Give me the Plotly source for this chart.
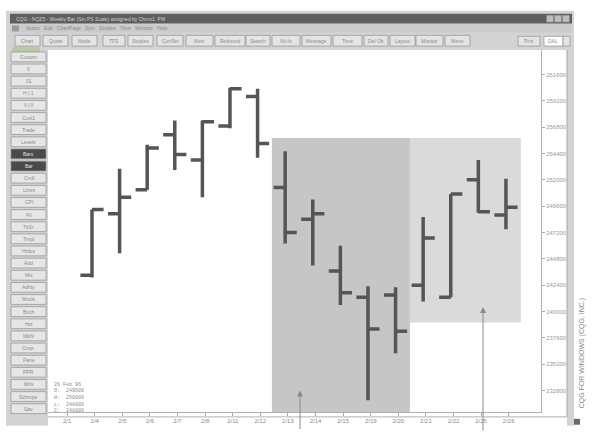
import plotly.graph_objects as go

# ---------------- data ----------------
bar_index = list(range(16))
opens  = [243300, 248900, 251100, 256100, 253800, 256900, 259600, 251300,
          248400, 243700, 241300, 241500, 242400, 241300, 252000, 248800]
highs  = [249300, 253000, 255200, 257400, 257400, 260400, 260300, 254600,
          250200, 246000, 242300, 242200, 248600, 250700, 253800, 252100]
lows   = [243100, 245300, 251100, 252900, 250400, 256700, 254000, 246200,
          244200, 240600, 231900, 236200, 240900, 241300, 249000, 247500]
closes = [249300, 250400, 254900, 254300, 257300, 260300, 255300, 247200,
          248900, 241700, 238400, 238200, 246700, 250700, 249100, 249500]

date_ticks = list(range(-1, 16))
date_labels = ["2/1", "2/4", "2/5", "2/6", "2/7", "2/8", "2/11", "2/12", "2/13",
               "2/14", "2/15", "2/19", "2/20", "2/21", "2/22", "2/25", "2/26"]

price_ticks = [232800, 235200, 237600, 240000, 242400, 244800, 247200,
               249600, 252000, 254400, 256800, 259200, 261600]

info_lines = ["26 Feb 96", "O:  249600", "H:  250000", "L:  248800", "C:  248800"]

toolbar_labels = ["Chart", "Quote", "Mode", "TFS", "Studies", "Cur/Sm", "Alert",
                  "Rebound", "Search", "Alt-In", "Message", "Time", "Del Ob",
                  "Layout", "Monitor", "Menu"]
side_labels = ["Custom", "0", "01", "H | 1", "II | II", "Cust1", "Trade", "Levels",
               "Bars", "Bar", "Cndl", "Lines", "CPI", "Fit", "TkSr", "Tmpl",
               "Hrdcs", "Add", "Mix", "Adhly", "Mncls", "Bnch", "Hst", "MktV",
               "Cmpr", "Pane", "PPR", "Mrls", "Schmpe", "Sav"]
menu_text = "Action   Edit   ChartPage   Sym   Studies   Time   Window   Help"
title_text = "CQG - NQZ5 - Weekly Bar (Sm PS Scale) assigned by Chrnx1  PM"

# ---------------- layout helpers ----------------
W, H = 594, 436
L, R, T, B = 48, 541, 50, 420


def px(x):
    return (x - L) / (R - L)


def py(y):
    return (B - y) / (B - T)


shapes = []
annos = []


def rect(x0, y0, x1, y1, fill, line="rgba(0,0,0,0)", lw=0, layer="above"):
    shapes.append(dict(type="rect", xref="paper", yref="paper",
                       x0=px(x0), x1=px(x1), y0=py(y1), y1=py(y0),
                       fillcolor=fill, line=dict(color=line, width=lw), layer=layer))


def text(x, y, s, size=6, color="#7a7a7a", anchor="center", angle=0, family="Liberation Sans"):
    annos.append(dict(xref="paper", yref="paper", x=px(x), y=py(y), text=s,
                      showarrow=False, xanchor=anchor, yanchor="middle",
                      textangle=angle, font=dict(size=size, color=color, family=family)))


# window chrome
rect(6, 10, 574, T, "#d3d3d3")          # top area
rect(6, T, L, 434, "#d3d3d3")           # left strip
rect(567, T, 574, 434, "#d3d3d3")       # right strip
rect(10, 13, 572, 23, "#5e5e5e")        # title bar
text(14, 18, title_text, size=5, color="#cfcfcf", anchor="left")
for i, bx in enumerate([550, 558, 566]):
    rect(bx - 3.5, 14.5, bx + 3.5, 21.5, "#bdbdbd", "#888", 0.5)
rect(10, 24, 572, 32, "#cbcbcb")
rect(12, 25, 19, 31, "#9a9a9a")
text(24, 28, menu_text, size=5, color="#8a8a8a", anchor="left")

# toolbar buttons
tb_x = [15, 43, 72, 103, 128, 157, 186, 215, 246, 272, 302, 333, 364, 390, 416, 445]
tb_w = [25, 25, 25, 22, 25, 26, 27, 30, 24, 28, 29, 29, 24, 25, 27, 25]
for lab, x0, w in zip(toolbar_labels, tb_x, tb_w):
    rect(x0, 35, x0 + w, 46, "#e4e4e4", "#8f8f8f", 0.7)
    text(x0 + w / 2, 40.5, lab, size=5, color="#8a8a8a")
rect(518, 36, 540, 46, "#e4e4e4", "#8f8f8f", 0.7)
text(529, 41, "Prnt", size=5, color="#8a8a8a")
rect(544, 36, 563, 46, "#ffffff", "#8f8f8f", 0.7)
text(553, 41, "DAL", size=5, color="#8a8a8a")
rect(563, 36, 570, 46, "#e4e4e4", "#8f8f8f", 0.7)
rect(12, 47, 40, 52, "#b9c9a8")

# left button column
for i, lab in enumerate(side_labels):
    yc = 57 + i * 12.4
    dark = lab in ("Bars", "Bar")
    rect(11, yc - 5, 46, yc + 5, "#4a4a4a" if dark else "#e6e6e6", "#8f8f8f", 0.7)
    text(28.5, yc, lab, size=5, color="#e0e0e0" if dark else "#8a8a8a")

# shaded highlight regions (in data coordinates)
shapes.append(dict(type="rect", xref="x", yref="y", x0=6.52, x1=11.52,
                   y0=230840, y1=255800, fillcolor="#c6c6c6",
                   line=dict(width=0), layer="below"))
shapes.append(dict(type="rect", xref="x", yref="y", x0=11.52, x1=15.54,
                   y0=239000, y1=255800, fillcolor="#dadada",
                   line=dict(width=0), layer="below"))

# right panel border lines
shapes.append(dict(type="line", xref="paper", yref="paper", x0=px(567), x1=px(567),
                   y0=py(425), y1=py(T), line=dict(color="#a8a8a8", width=1)))
shapes.append(dict(type="line", xref="paper", yref="paper", x0=px(L), x1=px(567),
                   y0=py(425), y1=py(425), line=dict(color="#b0b0b0", width=1)))

# info box text
for i, s in enumerate(info_lines):
    text(52, 392 + i * 6.8, s, size=5, color="#8a8a8a", anchor="left",
         family="Liberation Mono")

# vertical side caption
text(582, 360, "CQG FOR WINDOWS (CQG, INC.)", size=7, color="#8a8a8a", angle=-90)
rect(574, 427, 580, 433, "#6a6a6a")

# arrows
annos.append(dict(x=7.54, y=232800, xref="x", yref="y", ax=0, ay=40,
                  showarrow=True, arrowhead=2, arrowsize=1.2, arrowwidth=1,
                  arrowcolor="#8a8a8a", text=""))
annos.append(dict(x=14.17, y=240400, xref="x", yref="y", ax=0, ay=125,
                  showarrow=True, arrowhead=2, arrowsize=1.2, arrowwidth=1,
                  arrowcolor="#8a8a8a", text=""))

fig = go.Figure(go.Ohlc(
    x=bar_index, open=opens, high=highs, low=lows, close=closes,
    increasing=dict(line=dict(color="#555555", width=3.5)),
    decreasing=dict(line=dict(color="#555555", width=3.5)),
    tickwidth=0.42, hoverinfo="skip", showlegend=False,
))

fig.update_layout(
    width=W, height=H,
    margin=dict(l=L, r=W - R, t=T, b=H - B),
    paper_bgcolor="#ffffff", plot_bgcolor="#ffffff",
    shapes=shapes, annotations=annos,
    xaxis=dict(range=[-1.594, 16.27], tickmode="array",
               tickvals=[t + 0.1 for t in date_ticks], ticktext=date_labels,
               showgrid=False, zeroline=False, rangeslider=dict(visible=False),
               ticks="outside", ticklen=3, tickcolor="#aaaaaa",
               tickfont=dict(size=6, color="#8a8a8a", family="Liberation Sans"),
               showline=True, linecolor="#b0b0b0", linewidth=1),
    yaxis=dict(range=[230840, 263829], side="right", tickmode="array",
               tickvals=price_ticks, ticktext=[str(v) for v in price_ticks],
               showgrid=False, zeroline=False,
               ticks="outside", ticklen=3, tickcolor="#aaaaaa",
               tickfont=dict(size=6, color="#9a9a9a", family="Liberation Sans"),
               showline=True, linecolor="#b0b0b0", linewidth=1),
)

fig.write_html("out.html", config={"displayModeBar": False},
               post_script="document.body.style.margin='0px';")
